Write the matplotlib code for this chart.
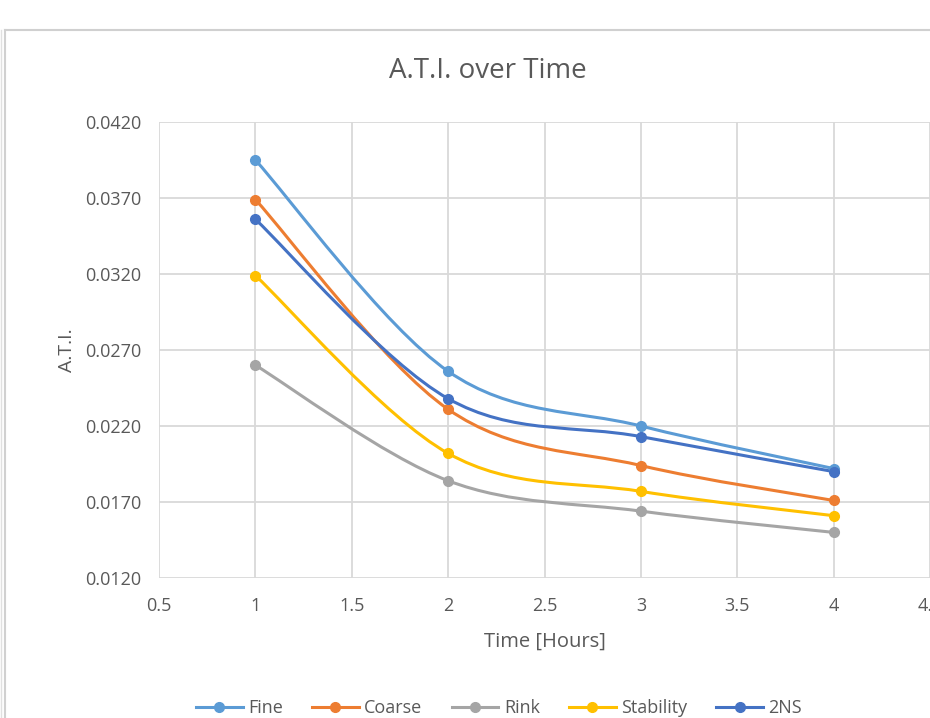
import matplotlib
matplotlib.use("Agg")
import matplotlib.pyplot as plt
from matplotlib.path import Path
from matplotlib.patches import PathPatch
from matplotlib.lines import Line2D
from matplotlib.ticker import MultipleLocator, FormatStrFormatter, FuncFormatter
import numpy as np

# data
hours = [1, 2, 3, 4]
fine = [0.0395, 0.0256, 0.0220, 0.0192]
coarse = [0.0369, 0.0231, 0.0194, 0.0171]
rink = [0.0260, 0.0184, 0.0164, 0.0150]
stability = [0.0319, 0.0202, 0.0177, 0.0161]
two_ns = [0.0356, 0.0238, 0.0213, 0.0190]

names = ["Fine", "Coarse", "Rink", "Stability", "2NS"]
series = [fine, coarse, rink, stability, two_ns]
colors = ["#5B9BD5", "#ED7D31", "#A5A5A5", "#FFC000", "#4472C4"]
y_ticks = [0.0120, 0.0170, 0.0220, 0.0270, 0.0320, 0.0370, 0.0420]

plt.rcParams['font.family'] = ['Open Sans', 'DejaVu Sans']
txt = "#595959"
grid_c = "#D9D9D9"


def smooth_path(x, y):
    # excel-like smoothed line: bezier segments with catmull-rom control points
    x = np.asarray(x, float)
    y = np.asarray(y, float)
    n = len(x)
    verts = [(x[0], y[0])]
    codes = [Path.MOVETO]
    for i in range(n - 1):
        p0 = np.array([x[max(i - 1, 0)], y[max(i - 1, 0)]])
        p1 = np.array([x[i], y[i]])
        p2 = np.array([x[i + 1], y[i + 1]])
        p3 = np.array([x[min(i + 2, n - 1)], y[min(i + 2, n - 1)]])
        c1 = p1 + (p2 - p0) / 6.0
        c2 = p2 - (p3 - p1) / 6.0
        verts += [tuple(c1), tuple(c2), tuple(p2)]
        codes += [Path.CURVE4] * 3
    return Path(verts, codes)


fig = plt.figure(figsize=(9.3, 7.18), dpi=100)
ax = fig.add_axes([159 / 930, (718 - 578) / 718, 771 / 930, 456 / 718])

handles = []
for name, vals, c in zip(names, series, colors):
    patch = PathPatch(smooth_path(hours, vals), facecolor="none", edgecolor=c,
                      linewidth=2.2, capstyle="round", joinstyle="round", zorder=3)
    ax.add_patch(patch)
    ax.plot(hours, vals, linestyle="none", marker="o", markersize=7,
            color=c, zorder=4)
    handles.append(Line2D([], [], color=c, linewidth=2.2, marker="o", markersize=7))

ax.set_xlim(0.5, 4.5)
ax.set_ylim(y_ticks[0], y_ticks[-1])
ax.xaxis.set_major_locator(MultipleLocator(0.5))
ax.set_yticks(y_ticks)
ax.yaxis.set_major_formatter(FormatStrFormatter("%.4f"))
ax.xaxis.set_major_formatter(FuncFormatter(lambda v, p: "%g" % v))
ax.grid(True, color=grid_c, linewidth=1.3)
ax.set_axisbelow(True)
for s in ax.spines.values():
    s.set_visible(False)
ax.tick_params(length=0, labelsize=13, labelcolor=txt, pad=13)
ax.tick_params(axis="x", pad=14)
ax.set_xlabel("Time [Hours]", fontsize=14.5, color=txt, labelpad=12)
ax.set_ylabel("A.T.I.", fontsize=14, color=txt, labelpad=6)

fig.text(488 / 930, 1 - 71 / 718, "A.T.I. over Time", ha="center", va="center",
         fontsize=20, color=txt)

fig.legend(handles, names, loc="center", bbox_to_anchor=(499 / 930, 1 - 708 / 718),
           ncol=5, frameon=False, fontsize=13, labelcolor=txt, handlelength=2.6,
           columnspacing=1.6, handletextpad=0.3)

# chart area border
fig.add_artist(Line2D([5 / 930, 1.0], [1 - 30 / 718, 1 - 30 / 718], color="#D0D0D0", linewidth=1.5))
fig.add_artist(Line2D([5 / 930, 5 / 930], [0, 1 - 30 / 718], color="#D0D0D0", linewidth=1.5))
fig.add_artist(Line2D([1 / 930, 1 / 930], [0, 1 - 30 / 718], color="#E0E0E0", linewidth=1.0))

fig.savefig("out.png", dpi=100)
